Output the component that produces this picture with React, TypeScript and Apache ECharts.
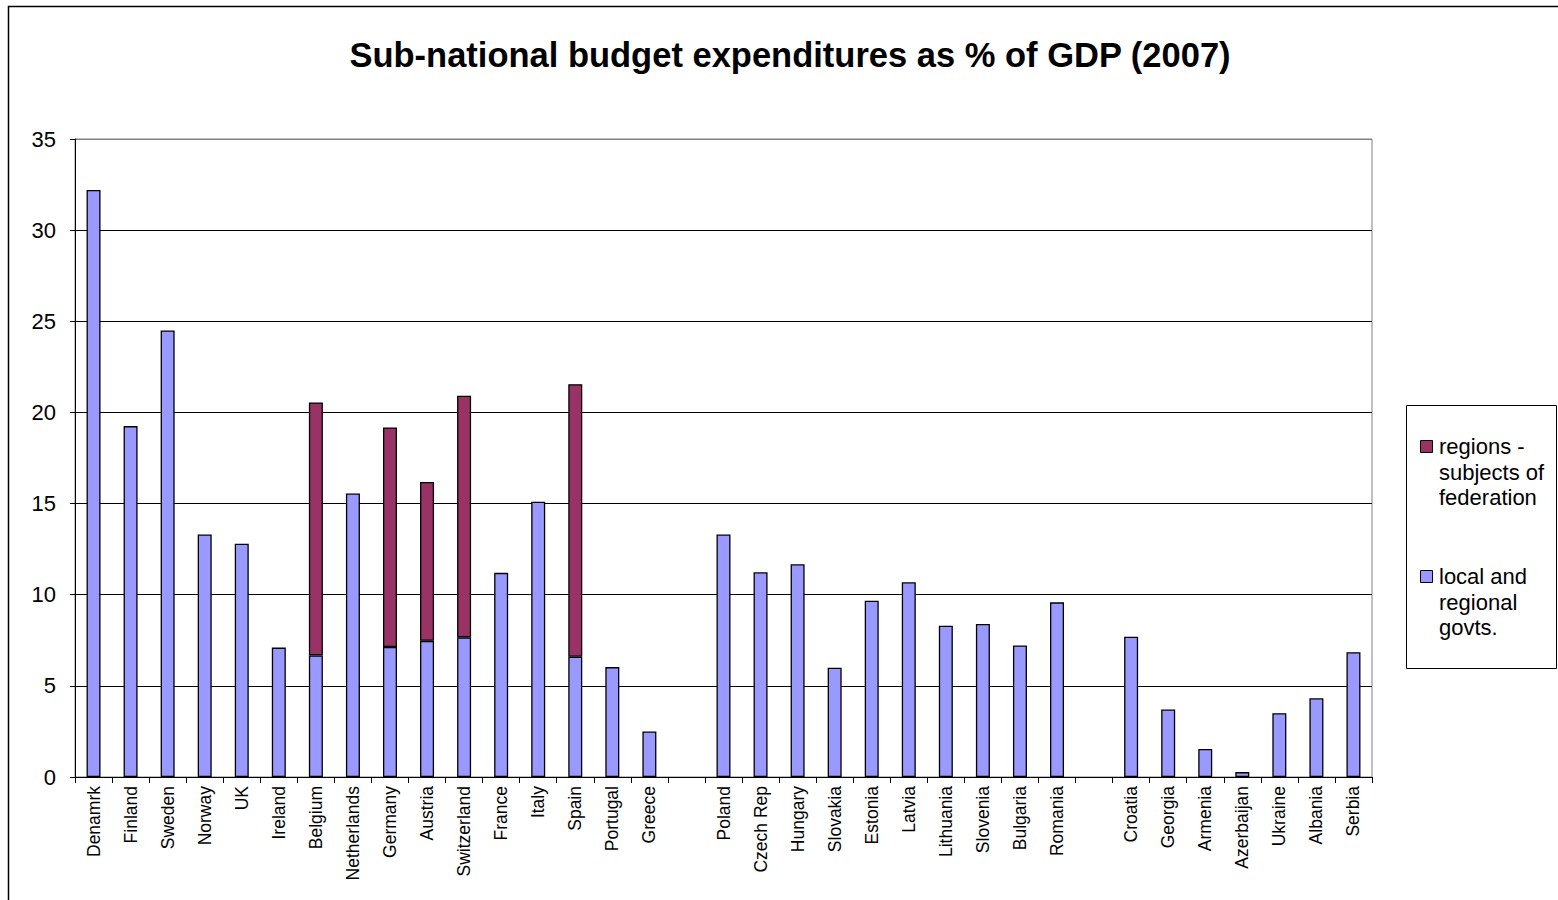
import React, { useEffect, useRef } from "react";
import * as echarts from "echarts";

const categories = [
  "Denamrk", "Finland", "Sweden", "Norway", "UK", "Ireland", "Belgium", "Netherlands",
  "Germany", "Austria", "Switzerland", "France", "Italy", "Spain", "Portugal", "Greece",
  " ",
  "Poland", "Czech Rep", "Hungary", "Slovakia", "Estonia", "Latvia", "Lithuania",
  "Slovenia", "Bulgaria", "Romania",
  "  ",
  "Croatia", "Georgia", "Armenia", "Azerbaijan", "Ukraine", "Albania", "Serbia",
];

const localGovts: (number | null)[] = [
  32.2, 19.25, 24.5, 13.3, 12.8, 7.1, 6.67, 15.55,
  7.13, 7.47, 7.66, 11.2, 15.1, 6.6, 6.03, 2.5,
  null,
  13.3, 11.23, 11.67, 6.0, 9.67, 10.68, 8.3,
  8.4, 7.22, 9.58,
  null,
  7.7, 3.7, 1.54, 0.27, 3.5, 4.32, 6.85,
];

const regionsFederation: (number | null)[] = [
  null, null, null, null, null, null, 13.88, null,
  12.05, 8.72, 13.26, null, null, 14.95, null, null,
  null,
  null, null, null, null, null, null, null,
  null, null, null,
  null,
  null, null, null, null, null, null, null,
];

const yTicks = [0, 5, 10, 15, 20, 25, 30, 35];

const titleText = "Sub-national budget expenditures as % of GDP (2007)";
const legendRegions = "regions -\nsubjects of\nfederation";
const legendLocal = "local and\nregional\ngovts.";

const FONT = "'Liberation Sans', Arial, sans-serif";
const BLUE = "#9999FF";
const MAROON = "#993366";

export default function App() {
  const ref = useRef<HTMLDivElement>(null);
  useEffect(() => {
    if (!ref.current) return;
    const chart = echarts.init(ref.current, null, { renderer: "svg" });
    const splitColors = yTicks.map((t) => (t === 35 ? "#808080" : "#000000"));
    chart.setOption({
      animation: false,
      backgroundColor: "#ffffff",
      title: {
        text: titleText,
        left: 785,
        top: 32,
        textAlign: "center",
        textStyle: { fontFamily: FONT, fontSize: 34.5, fontWeight: "bold", color: "#000" },
      },
      grid: {
        left: 75,
        right: 186,
        top: 139,
        bottom: 123,
        show: true,
        borderColor: "#808080",
        borderWidth: 1,
        backgroundColor: "transparent",
      },
      xAxis: {
        type: "category",
        data: categories,
        boundaryGap: true,
        axisLine: { lineStyle: { color: "#000", width: 1 } },
        axisTick: { show: true, interval: 0, length: 6, lineStyle: { color: "#000" } },
        axisLabel: {
          interval: 0,
          rotate: 90,
          margin: 9,
          fontFamily: FONT,
          fontSize: 17.5,
          color: "#000",
        },
        splitLine: { show: false },
      },
      yAxis: {
        type: "value",
        min: 0,
        max: 35,
        interval: 5,
        axisLine: { show: true, lineStyle: { color: "#000", width: 1 } },
        axisTick: { show: true, length: 5, lineStyle: { color: "#000" } },
        axisLabel: { margin: 19, fontFamily: FONT, fontSize: 22, color: "#000" },
        splitLine: { show: true, lineStyle: { color: splitColors, width: 1 } },
      },
      series: [
        {
          name: "local and regional govts.",
          type: "bar",
          stack: "total",
          data: localGovts,
          barWidth: 14,
          itemStyle: { color: BLUE, borderColor: "#000", borderWidth: 1.3 },
        },
        {
          name: "regions - subjects of federation",
          type: "bar",
          stack: "total",
          data: regionsFederation,
          barWidth: 14,
          itemStyle: { color: MAROON, borderColor: "#000", borderWidth: 1.3 },
        },
      ],
      graphic: [
        {
          type: "rect",
          silent: true,
          shape: { x: 8.5, y: 6.5, width: 1600, height: 1000 },
          style: { fill: "none", stroke: "#000", lineWidth: 1.5 },
        },
        {
          type: "rect",
          silent: true,
          shape: { x: 1406.5, y: 405.5, width: 150, height: 263 },
          style: { fill: "#fff", stroke: "#000", lineWidth: 1 },
        },
        {
          type: "rect",
          silent: true,
          shape: { x: 1420.5, y: 440.5, width: 12, height: 12 },
          style: { fill: MAROON, stroke: "#000", lineWidth: 1 },
        },
        {
          type: "text",
          silent: true,
          x: 1439,
          y: 434,
          style: {
            text: legendRegions,
            fontFamily: FONT,
            fontSize: 22,
            lineHeight: 25.5,
            fill: "#000",
            align: "left",
            verticalAlign: "top",
          },
        },
        {
          type: "rect",
          silent: true,
          shape: { x: 1420.5, y: 570.5, width: 12, height: 12 },
          style: { fill: BLUE, stroke: "#000", lineWidth: 1 },
        },
        {
          type: "text",
          silent: true,
          x: 1439,
          y: 564,
          style: {
            text: legendLocal,
            fontFamily: FONT,
            fontSize: 22,
            lineHeight: 25.5,
            fill: "#000",
            align: "left",
            verticalAlign: "top",
          },
        },
      ],
    });
    return () => chart.dispose();
  }, []);
  return (
    <div
      ref={ref}
      style={{ position: "absolute", left: 0, top: 0, width: 1558, height: 900 }}
    />
  );
}
